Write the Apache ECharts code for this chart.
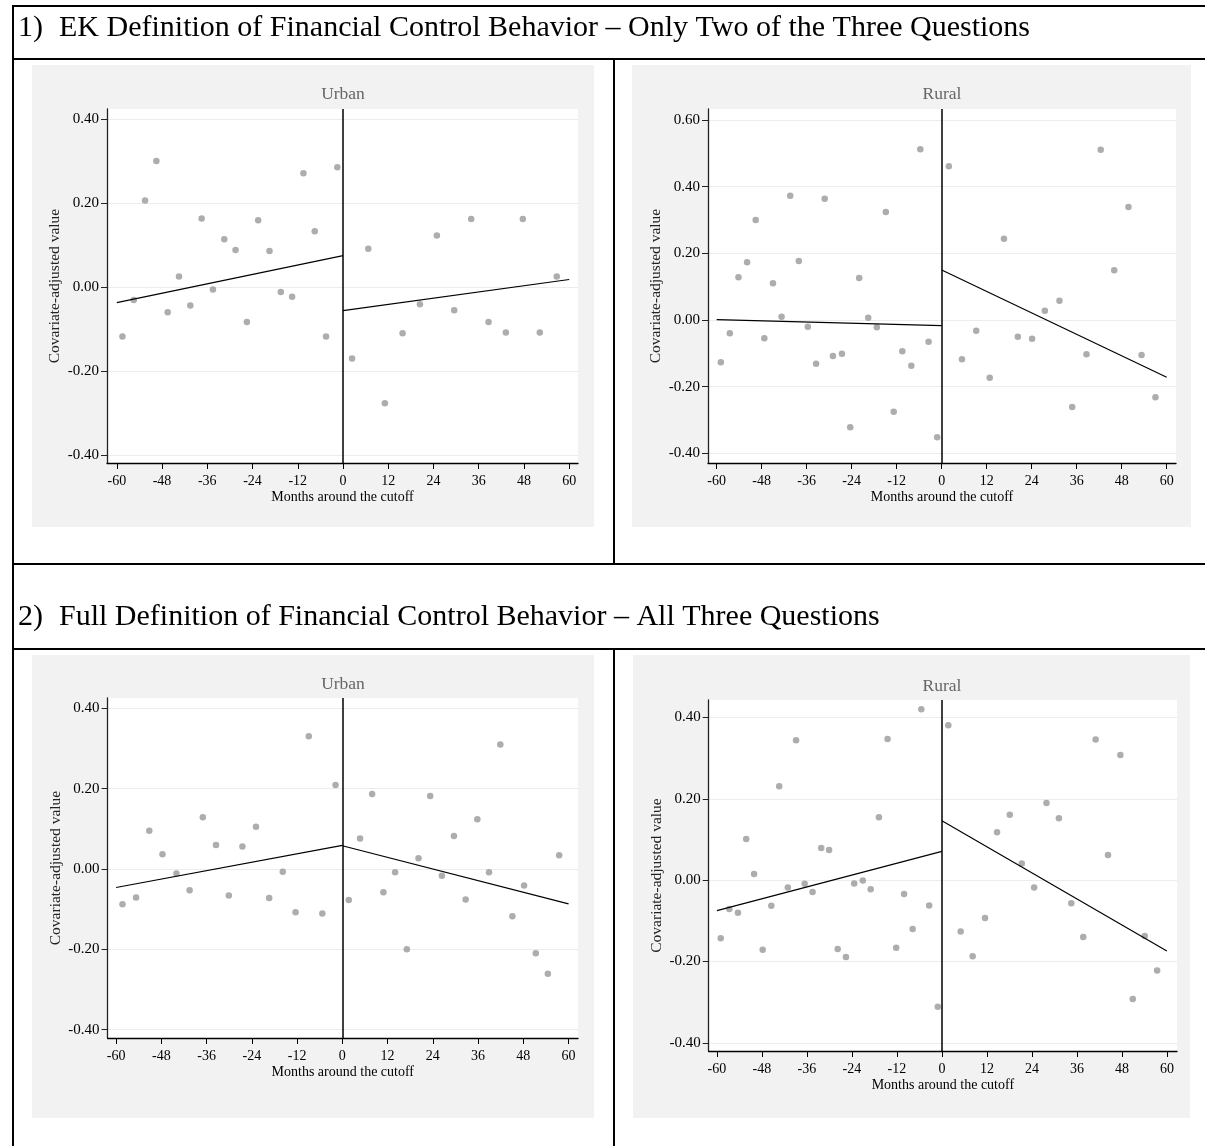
<!DOCTYPE html>
<html>
<head>
<meta charset="utf-8">
<script src="https://cdn.jsdelivr.net/npm/echarts@6/dist/echarts.min.js"></script>
<style>
html,body{margin:0;padding:0;background:#fff;}
#chart{width:1205px;height:1146px;}
</style>
</head>
<body>
<div id="chart"></div>
<script>
// ---------- tick labels ----------
const xTicks = [-60, -48, -36, -24, -12, 0, 12, 24, 36, 48, 60];
const yTicksStd = [-0.4, -0.2, 0, 0.2, 0.4];
const yTicksRuralEK = [-0.4, -0.2, 0, 0.2, 0.4, 0.6];

// ---------- section texts ----------
const section1Num = '1)';
const section1Title = 'EK Definition of Financial Control Behavior \u2013 Only Two of the Three Questions';
const section2Num = '2)';
const section2Title = 'Full Definition of Financial Control Behavior \u2013 All Three Questions';
const xAxisName = 'Months around the cutoff';
const yAxisName = 'Covariate-adjusted value';

// ---------- 1) EK definition, Urban ----------
const ekUrbanBeforeMonths = [-58.5,-55.5,-52.5,-49.5,-46.5,-43.5,-40.5,-37.5,-34.5,-31.5,-28.5,-25.5,-22.5,-19.5,-16.5,-13.5,-10.5,-7.5,-4.5,-1.5];
const ekUrbanBeforeValues = [-0.118,-0.031,0.206,0.300,-0.060,0.025,-0.044,0.163,-0.006,0.114,0.088,-0.083,0.159,0.086,-0.012,-0.023,0.271,0.133,-0.118,0.285];
const ekUrbanAfterMonths = [2.4,6.7,11.1,15.8,20.4,24.9,29.5,34.0,38.6,43.2,47.7,52.2,56.7];
const ekUrbanAfterValues = [-0.170,0.091,-0.277,-0.110,-0.041,0.123,-0.055,0.162,-0.083,-0.108,0.162,-0.108,0.025];
const ekUrbanFitBefore = [[-60,-0.037],[0,0.075]];
const ekUrbanFitAfter = [[0,-0.056],[60,0.018]];

// ---------- 1) EK definition, Rural ----------
const ekRuralBeforeMonths = [-58.9,-56.5,-54.2,-51.9,-49.6,-47.3,-45.0,-42.7,-40.4,-38.1,-35.7,-33.5,-31.2,-29.0,-26.6,-24.4,-22.0,-19.6,-17.3,-14.9,-12.8,-10.5,-8.1,-5.7,-3.5,-1.2];
const ekRuralBeforeValues = [-0.127,-0.040,0.128,0.173,0.300,-0.055,0.110,0.010,0.373,0.177,-0.020,-0.131,0.364,-0.108,-0.101,-0.322,0.126,0.007,-0.022,0.324,-0.275,-0.094,-0.137,0.512,-0.065,-0.352];
const ekRuralAfterMonths = [1.9,5.4,9.2,12.8,16.6,20.3,24.1,27.5,31.4,34.8,38.6,42.4,46.0,49.8,53.3,57.0];
const ekRuralAfterValues = [0.461,-0.118,-0.032,-0.173,0.244,-0.050,-0.056,0.028,0.058,-0.261,-0.103,0.511,0.149,0.339,-0.105,-0.232];
const ekRuralFitBefore = [[-60,0.001],[0,-0.017]];
const ekRuralFitAfter = [[0,0.150],[60,-0.172]];

// ---------- 2) Full definition, Urban ----------
const fullUrbanBeforeMonths = [-58.3,-54.7,-51.2,-47.7,-44.0,-40.5,-37.0,-33.5,-30.1,-26.5,-22.9,-19.4,-15.8,-12.4,-8.9,-5.3,-1.8];
const fullUrbanBeforeValues = [-0.088,-0.071,0.095,0.037,-0.011,-0.053,0.129,0.060,-0.066,0.056,0.105,-0.072,-0.007,-0.108,0.331,-0.111,0.209];
const fullUrbanAfterMonths = [1.7,4.7,7.9,10.9,14.0,17.1,20.2,23.3,26.4,29.6,32.7,35.8,38.9,41.9,45.1,48.2,51.3,54.5,57.5];
const fullUrbanAfterValues = [-0.077,0.076,0.187,-0.058,-0.008,-0.200,0.027,0.182,-0.017,0.082,-0.076,0.124,-0.008,0.310,-0.118,-0.041,-0.210,-0.261,0.034];
const fullUrbanFitBefore = [[-60,-0.046],[0,0.059]];
const fullUrbanFitAfter = [[0,0.058],[60,-0.087]];

// ---------- 2) Full definition, Rural ----------
const fullRuralBeforeMonths = [-59.0,-56.7,-54.4,-52.2,-50.1,-47.8,-45.5,-43.4,-41.1,-38.9,-36.6,-34.5,-32.2,-30.1,-27.8,-25.6,-23.4,-21.1,-19.0,-16.8,-14.5,-12.2,-10.1,-7.8,-5.5,-3.4,-1.1];
const fullRuralBeforeValues = [-0.143,-0.071,-0.080,0.101,0.015,-0.171,-0.063,0.231,-0.018,0.344,-0.009,-0.029,0.079,0.074,-0.169,-0.189,-0.008,-0.001,-0.022,0.155,0.347,-0.166,-0.034,-0.120,0.420,-0.062,-0.311];
const fullRuralAfterMonths = [1.7,5.0,8.2,11.5,14.7,18.1,21.3,24.6,27.9,31.2,34.5,37.7,41.0,44.3,47.6,50.9,54.1,57.4];
const fullRuralAfterValues = [0.381,-0.126,-0.187,-0.093,0.118,0.161,0.041,-0.018,0.190,0.152,-0.057,-0.140,0.346,0.062,0.308,-0.292,-0.137,-0.222];
const fullRuralFitBefore = [[-60,-0.075],[0,0.071]];
const fullRuralFitAfter = [[0,0.146],[60,-0.174]];

// ---------- layout (styles only) ----------
const SERIF = '"Liberation Serif","Times New Roman",Times,serif';
const zip = (xs, ys) => xs.map((x, i) => [x, ys[i]]);

const panels = [
  { title: 'Urban', grid: {left:107, top:109, width:471, height:354}, x:[-62.6,62.33], y:[-0.419,0.424], yTicks: yTicksStd,
    titlePos:[343,94], bg:[32,65,562,462],
    before: zip(ekUrbanBeforeMonths, ekUrbanBeforeValues), after: zip(ekUrbanAfterMonths, ekUrbanAfterValues),
    fitB: ekUrbanFitBefore, fitA: ekUrbanFitAfter },
  { title: 'Rural', grid: {left:708, top:109, width:468, height:354}, x:[-62.32,62.48], y:[-0.429,0.633], yTicks: yTicksRuralEK,
    titlePos:[942,94], bg:[632,65,559,462],
    before: zip(ekRuralBeforeMonths, ekRuralBeforeValues), after: zip(ekRuralAfterMonths, ekRuralAfterValues),
    fitB: ekRuralFitBefore, fitA: ekRuralFitAfter },
  { title: 'Urban', grid: {left:107.6, top:698, width:470.4, height:340}, x:[-62.25,62.5], y:[-0.421,0.426], yTicks: yTicksStd,
    titlePos:[343,684], bg:[32,655,562,463],
    before: zip(fullUrbanBeforeMonths, fullUrbanBeforeValues), after: zip(fullUrbanAfterMonths, fullUrbanAfterValues),
    fitB: fullUrbanFitBefore, fitA: fullUrbanFitAfter },
  { title: 'Rural', grid: {left:708.7, top:700, width:468.3, height:351}, x:[-62.2,62.7], y:[-0.42,0.443], yTicks: yTicksStd,
    titlePos:[942,686], bg:[633,655,557,463],
    before: zip(fullRuralBeforeMonths, fullRuralBeforeValues), after: zip(fullRuralAfterMonths, fullRuralAfterValues),
    fitB: fullRuralFitBefore, fitA: fullRuralFitAfter }
];

const grids = [], xAxes = [], yAxes = [], series = [], graphics = [];

// table rules
const rule = (x1,y1,x2,y2) => ({ type:'line', z:50, shape:{x1,y1,x2,y2}, style:{stroke:'#000', lineWidth:2} });
graphics.push(rule(12,6,1205,6), rule(13,5,13,1146), rule(12,59,1205,59), rule(12,564,1205,564), rule(12,649,1205,649),
              rule(614,59,614,564), rule(614,649,614,1146));

const txt = (x, y, text, font, fill, align) => ({
  type:'text', x, y, z:60,
  style:{ text, font, fill, align: align||'left', textAlign: align||'left', verticalAlign:'middle', textVerticalAlign:'middle' }
});
graphics.push(txt(18, 28, section1Num, '30px ' + SERIF, '#000'));
graphics.push(txt(59, 28, section1Title, '30px ' + SERIF, '#000'));
graphics.push(txt(18, 617, section2Num, '30px ' + SERIF, '#000'));
graphics.push(txt(59, 617, section2Title, '30px ' + SERIF, '#000'));

panels.forEach((p, i) => {
  graphics.push({ type:'rect', z:-10, shape:{x:p.bg[0], y:p.bg[1], width:p.bg[2], height:p.bg[3]}, style:{fill:'#f2f2f2'} });
  graphics.push(txt(p.titlePos[0], p.titlePos[1], p.title, '17.5px ' + SERIF, '#666', 'center'));

  grids.push(Object.assign({ show:true, backgroundColor:'#fff', borderWidth:0, containLabel:false }, p.grid));
  xAxes.push({
    type:'value', gridIndex:i, min:p.x[0], max:p.x[1],
    name: xAxisName, nameLocation:'middle', nameGap:27,
    nameTextStyle:{ fontFamily:SERIF, fontSize:14, color:'#000' },
    axisLine:{ show:true, onZero:false, lineStyle:{ color:'#000', width:1.3 } },
    axisTick:{ show:true, length:6, customValues: xTicks, lineStyle:{ color:'#000', width:1 } },
    axisLabel:{ show:true, customValues: xTicks, margin:11, fontFamily:SERIF, fontSize:14, color:'#000', formatter: v => String(v) },
    splitLine:{ show:false }
  });
  yAxes.push({
    type:'value', gridIndex:i, min:p.y[0], max:p.y[1],
    name: yAxisName, nameLocation:'middle', nameGap:44,
    nameTextStyle:{ fontFamily:SERIF, fontSize:15.5, color:'#222' },
    axisLine:{ show:true, onZero:false, lineStyle:{ color:'#222', width:1.3 } },
    axisTick:{ show:true, length:6, customValues: p.yTicks, lineStyle:{ color:'#222', width:1 } },
    axisLabel:{ show:true, customValues: p.yTicks, margin:8, fontFamily:SERIF, fontSize:15, color:'#000', formatter: v => v.toFixed(2) },
    splitLine:{ show:true, lineStyle:{ color:'#ececec', width:1 } }
  });
  series.push({
    type:'scatter', xAxisIndex:i, yAxisIndex:i, data: p.before.concat(p.after),
    symbol:'circle', symbolSize:6.5, itemStyle:{ color:'#999' }, silent:true, z:2,
    markLine:{ silent:true, symbol:'none', label:{show:false}, lineStyle:{ color:'#000', width:1.5, type:'solid' },
               data:[{ xAxis:0 }], animation:false }
  });
  [p.fitB, p.fitA].forEach(fit => series.push({
    type:'line', xAxisIndex:i, yAxisIndex:i, data: fit, symbol:'none', silent:true, z:3,
    lineStyle:{ color:'#000', width:1.2 }
  }));
});

const chart = echarts.init(document.getElementById('chart'), null, { renderer:'canvas' });
chart.setOption({
  animation:false,
  backgroundColor:'#fff',
  grid: grids, xAxis: xAxes, yAxis: yAxes, series, graphic: graphics
});
</script>
</body>
</html>
